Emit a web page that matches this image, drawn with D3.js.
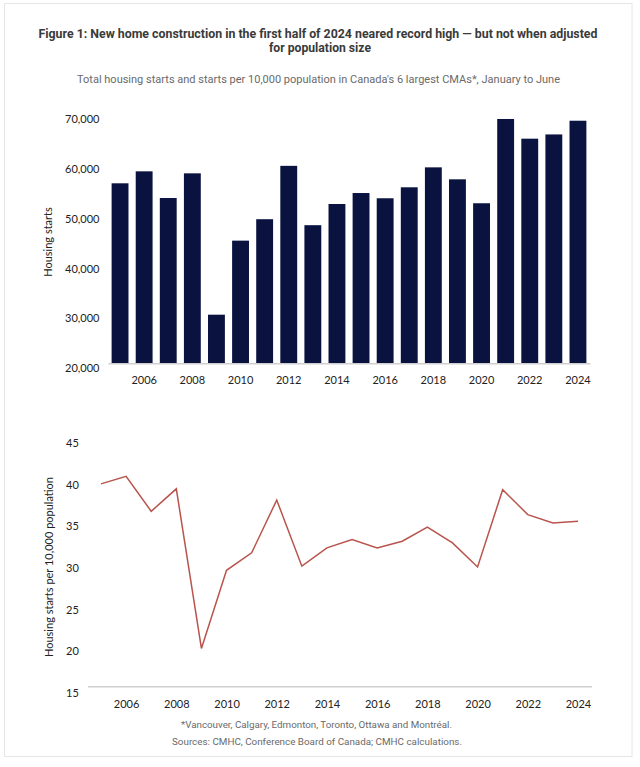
<!DOCTYPE html>
<html>
<head>
<meta charset="utf-8">
<script src="https://cdn.jsdelivr.net/npm/d3@7"></script>
<style>
  html, body { margin: 0; padding: 0; background: #fff; }
  svg { display: block; }
</style>
</head>
<body>
<svg id="chart" width="640" height="767"></svg>
<script>
// ---- Data ----
const years = [2005, 2006, 2007, 2008, 2009, 2010, 2011, 2012, 2013, 2014,
               2015, 2016, 2017, 2018, 2019, 2020, 2021, 2022, 2023, 2024];
const housingStarts = [56100, 58500, 53150, 58100, 29750, 44600, 48900, 59600, 47700, 51950,
                       54150, 53100, 55300, 59300, 56900, 52100, 69000, 65050, 65900, 68650];
const startsPer10k = [39.4, 40.3, 36.1, 38.8, 19.6, 29.0, 31.1, 37.45, 29.5, 31.7,
                      32.7, 31.7, 32.5, 34.2, 32.3, 29.4, 38.7, 35.7, 34.7, 34.9];
const barTicks = [20000, 30000, 40000, 50000, 60000, 70000];
const lineTicks = [15, 20, 25, 30, 35, 40, 45];
const xTickYears = [2006, 2008, 2010, 2012, 2014, 2016, 2018, 2020, 2022, 2024];

const titleLines = ["Figure 1: New home construction in the first half of 2024 neared record high \u2014 but not when adjusted",
                    "for population size"];
const subtitle = "Total housing starts and starts per 10,000 population in Canada's 6 largest CMAs*, January to June";
const footnotes = ["*Vancouver, Calgary, Edmonton, Toronto, Ottawa and Montr\u00e9al.",
                   "Sources: CMHC, Conference Board of Canada; CMHC calculations."];

const svg = d3.select("#chart");

// Card border
svg.append("rect").attr("x", 4.5).attr("y", 3.5).attr("width", 627.5).attr("height", 753)
  .attr("fill", "#fff").attr("stroke", "#e6e6e6").attr("stroke-width", 1);

// Title
svg.append("text").attr("x", 318).attr("y", 38).attr("text-anchor", "middle")
  .attr("font-family", "Roboto").attr("font-weight", "bold").attr("font-size", 12)
  .attr("fill", "#3a3a3a").attr("textLength", 559).attr("lengthAdjust", "spacingAndGlyphs")
  .text(titleLines[0]);
svg.append("text").attr("x", 320).attr("y", 52).attr("text-anchor", "middle")
  .attr("font-family", "Roboto").attr("font-weight", "bold").attr("font-size", 12)
  .attr("fill", "#3a3a3a").attr("textLength", 102).attr("lengthAdjust", "spacingAndGlyphs")
  .text(titleLines[1]);
// Subtitle
svg.append("text").attr("x", 318.5).attr("y", 83).attr("text-anchor", "middle")
  .attr("font-family", "Roboto").attr("font-size", 10.5)
  .attr("fill", "#6a6a6a").attr("textLength", 483).attr("lengthAdjust", "spacingAndGlyphs")
  .text(subtitle);

const axisFont = "Lato, 'Open Sans', sans-serif";
const textColor = "#222";

// ---- Bar chart ----
const xBand = d3.scaleBand().domain(years).range([108, 590]).paddingInner(0.3).paddingOuter(0.15);
const yBar = d3.scaleLinear().domain([20000, 70000]).range([363.3, 114]);

const gBar = svg.append("g");
gBar.selectAll("rect.bar").data(years).join("rect")
  .attr("class", "bar")
  .attr("x", d => xBand(d))
  .attr("width", xBand.bandwidth())
  .attr("y", (d, i) => yBar(housingStarts[i]))
  .attr("height", (d, i) => yBar(20000) - yBar(housingStarts[i]))
  .attr("fill", "#0a1340");

// x axis (bar)
const xAxisBar = d3.axisBottom(xBand).tickValues(xTickYears).tickSize(0).tickPadding(0);
const gxb = gBar.append("g").attr("transform", `translate(0,${yBar(20000)})`).call(xAxisBar);
gxb.select(".domain").attr("stroke", "#cfcfcf").attr("stroke-width", 1.5);
gxb.selectAll("text").attr("font-family", axisFont).attr("font-size", 11)
  .attr("fill", textColor).attr("dy", null).attr("y", 21);

// y axis (bar) labels, left aligned
const fmt = d3.format(",");
const gyb = gBar.append("g").attr("transform", "translate(65,0)")
  .call(d3.axisLeft(yBar).tickValues(barTicks).tickFormat(fmt).tickSize(0).tickPadding(0));
gyb.select(".domain").remove();
gyb.selectAll("text").attr("text-anchor", "start").attr("x", 0).attr("dy", "0.32em")
  .attr("y", 5).attr("font-family", axisFont).attr("font-size", 11).attr("fill", textColor);

gBar.append("text").attr("transform", "translate(52,242) rotate(-90)")
  .attr("text-anchor", "middle").attr("font-family", axisFont).attr("font-size", 11)
  .attr("fill", textColor).text("Housing starts");

// ---- Line chart ----
const xLin = d3.scaleLinear().domain([2005, 2024]).range([101, 578]);
const yLin = d3.scaleLinear().domain([15, 45]).range([686.7, 437.3]);

const gLine = svg.append("g");
const gxl = gLine.append("g").attr("transform", `translate(0,${yLin(15)})`)
  .call(d3.axisBottom(xLin).tickValues(xTickYears).tickFormat(d3.format("d")).tickSize(0).tickPadding(0));
gxl.select(".domain").remove();
gLine.append("line").attr("x1", 88).attr("x2", 592).attr("y1", yLin(15)).attr("y2", yLin(15))
  .attr("stroke", "#cfcfcf").attr("stroke-width", 1.5);
gxl.selectAll("text").attr("font-family", axisFont).attr("font-size", 11)
  .attr("fill", textColor).attr("dy", null).attr("y", 21);

const gyl = gLine.append("g").attr("transform", "translate(66,0)")
  .call(d3.axisLeft(yLin).tickValues(lineTicks).tickSize(0).tickPadding(0));
gyl.select(".domain").remove();
gyl.selectAll("text").attr("text-anchor", "start").attr("x", 0).attr("dy", "0.32em")
  .attr("y", 6).attr("font-family", axisFont).attr("font-size", 11).attr("fill", textColor);

gLine.append("text").attr("transform", "translate(53,567) rotate(-90)")
  .attr("text-anchor", "middle").attr("font-family", axisFont).attr("font-size", 11)
  .attr("fill", textColor).text("Housing starts per 10,000 population");

const line = d3.line().x((d, i) => xLin(years[i])).y(d => yLin(d));
gLine.append("path").datum(startsPer10k).attr("d", line)
  .attr("fill", "none").attr("stroke", "#b8544c").attr("stroke-width", 1.5)
  .attr("stroke-linejoin", "miter");

// Footnotes
svg.append("text").attr("x", 316.5).attr("y", 728).attr("text-anchor", "middle")
  .attr("font-family", "Roboto").attr("font-size", 9.5).attr("fill", "#6a6a6a")
  .attr("textLength", 271).attr("lengthAdjust", "spacingAndGlyphs").text(footnotes[0]);
svg.append("text").attr("x", 317).attr("y", 745).attr("text-anchor", "middle")
  .attr("font-family", "Roboto").attr("font-size", 9.5).attr("fill", "#6a6a6a")
  .attr("textLength", 290).attr("lengthAdjust", "spacingAndGlyphs").text(footnotes[1]);
</script>
</body>
</html>
